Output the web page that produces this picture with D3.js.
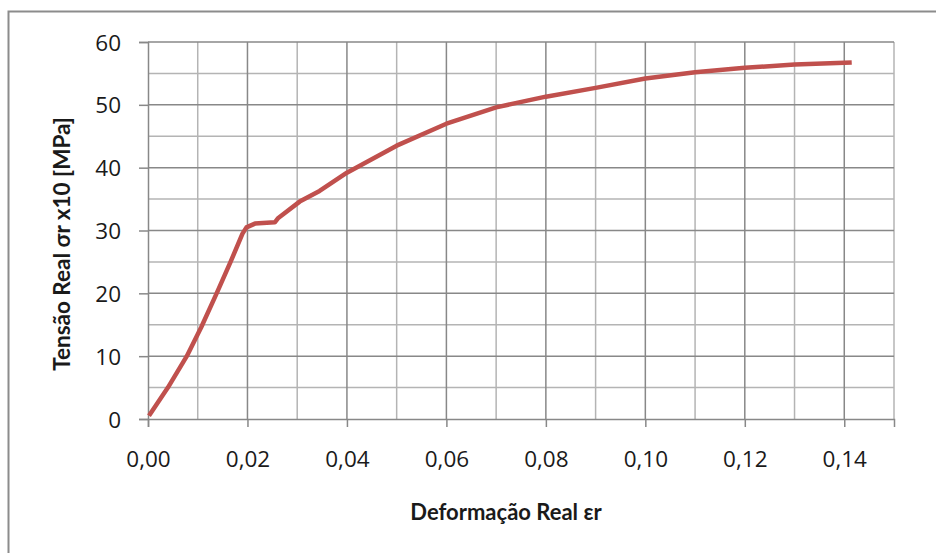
<!DOCTYPE html>
<html>
<head>
<meta charset="utf-8">
<script src="https://cdn.jsdelivr.net/npm/d3@7"></script>
<style>
  html, body { margin: 0; padding: 0; background: #fff; }
  svg { display: block; }
  text { fill: #1a1a1a; }
</style>
</head>
<body>
<svg id="chart" width="936" height="553"></svg>
<script>
// True strain (εr) and true stress (σr x10, MPa) readings
const strain = [0.0002, 0.0040, 0.0078, 0.0107, 0.0138, 0.0166, 0.0190, 0.0198, 0.0215, 0.0255, 0.0262,
                0.0305, 0.0345, 0.0400, 0.0500, 0.0600, 0.0700, 0.0800, 0.0900, 0.1000, 0.1100,
                0.1200, 0.1300, 0.1400, 0.1415];
const stress = [0.5, 5.0, 10.0, 14.6, 20.0, 25.0, 29.5, 30.5, 31.1, 31.3, 32.0,
                34.6, 36.3, 39.2, 43.5, 47.0, 49.6, 51.3, 52.7, 54.2, 55.2,
                55.9, 56.4, 56.7, 56.75];

const xTicks = [0, 0.02, 0.04, 0.06, 0.08, 0.10, 0.12, 0.14];
const yTicks = [0, 10, 20, 30, 40, 50, 60];
const xMinor = [0.01, 0.03, 0.05, 0.07, 0.09, 0.11, 0.13, 0.15];
const yMinor = [5, 15, 25, 35, 45, 55];

const xTitle = "Deformação Real εr";
const yTitle = "Tensão Real σr x10 [MPa]";

const svg = d3.select("#chart");
const plot = { left: 148, right: 894, top: 42, bottom: 419 };

const x = d3.scaleLinear().domain([0, 0.15]).range([plot.left, plot.right]);
const y = d3.scaleLinear().domain([0, 60]).range([plot.bottom, plot.top]);

// outer chart frame
svg.append("rect")
  .attr("x", 8.5).attr("y", 11.5)
  .attr("width", 940).attr("height", 560)
  .attr("fill", "none").attr("stroke", "#8c8c8c").attr("stroke-width", 2);

const grid = svg.append("g");
// minor gridlines
grid.selectAll("line.vminor").data(xMinor).join("line")
  .attr("x1", d => x(d)).attr("x2", d => x(d))
  .attr("y1", plot.top).attr("y2", plot.bottom)
  .attr("stroke", "#b4b4b4").attr("stroke-width", 1.5);
grid.selectAll("line.hminor").data(yMinor).join("line")
  .attr("x1", plot.left).attr("x2", plot.right)
  .attr("y1", d => y(d)).attr("y2", d => y(d))
  .attr("stroke", "#b4b4b4").attr("stroke-width", 1.5);
// major gridlines
grid.selectAll("line.vmajor").data(xTicks.slice(1)).join("line")
  .attr("x1", d => x(d)).attr("x2", d => x(d))
  .attr("y1", plot.top).attr("y2", plot.bottom)
  .attr("stroke", "#888888").attr("stroke-width", 1.5);
grid.selectAll("line.hmajor").data(yTicks.slice(1)).join("line")
  .attr("x1", plot.left).attr("x2", plot.right)
  .attr("y1", d => y(d)).attr("y2", d => y(d))
  .attr("stroke", "#888888").attr("stroke-width", 1.5);

const fmtX = v => d3.format(".2f")(v).replace(".", ",");

// axes
const xAxis = svg.append("g")
  .attr("transform", `translate(0,${plot.bottom})`)
  .call(d3.axisBottom(x).tickValues(xTicks).tickFormat(fmtX).tickSize(8).tickPadding(24));
const yAxis = svg.append("g")
  .attr("transform", `translate(${plot.left},0)`)
  .call(d3.axisLeft(y).tickValues(yTicks).tickSize(9).tickPadding(18));

[xAxis, yAxis].forEach(g => {
  g.select(".domain").attr("stroke", "#888888").attr("stroke-width", 1.5);
  g.selectAll(".tick line").attr("stroke", "#888888").attr("stroke-width", 1.5);
  g.selectAll(".tick text")
    .attr("font-family", "'Open Sans', sans-serif")
    .attr("font-size", 22.5).attr("fill", "#1a1a1a");
});
yAxis.selectAll(".tick text").attr("dy", "0.36em");

// curve
const line = d3.line().x((d, i) => x(strain[i])).y(d => y(d));
svg.append("path")
  .datum(stress)
  .attr("d", line)
  .attr("fill", "none")
  .attr("stroke", "#C0504D")
  .attr("stroke-width", 4.5)
  .attr("stroke-linejoin", "round")
  .attr("stroke-linecap", "butt");

// axis titles
svg.append("text")
  .attr("x", 506).attr("y", 520)
  .attr("text-anchor", "middle")
  .attr("font-family", "Lato, sans-serif")
  .attr("font-size", 22).attr("font-weight", "bold")
  .text(xTitle);
svg.append("text")
  .attr("transform", "translate(70,244) rotate(-90)")
  .attr("text-anchor", "middle")
  .attr("font-family", "Lato, sans-serif")
  .attr("font-size", 22.5).attr("font-weight", "bold")
  .text(yTitle);
</script>
</body>
</html>
